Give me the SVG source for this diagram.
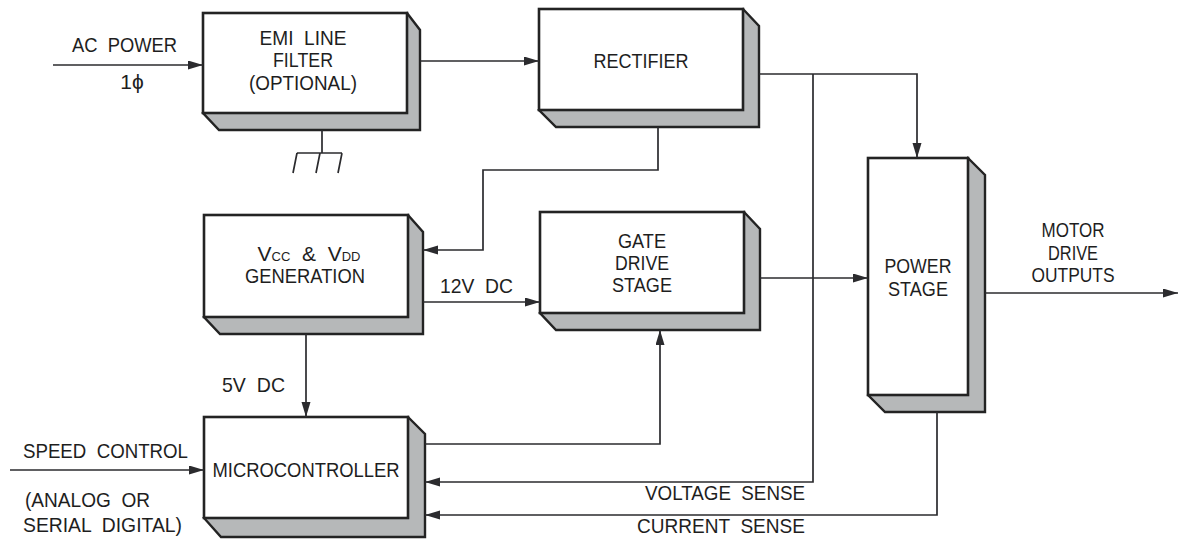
<svg xmlns="http://www.w3.org/2000/svg" width="1178" height="540" viewBox="0 0 1178 540">
<style>
.front{fill:#ffffff;stroke:#232323;stroke-width:2.6}
.shade{fill:#b6b8b9;stroke:#232323;stroke-width:2.4;stroke-linejoin:miter}
.ln{fill:none;stroke:#2b2b2e;stroke-width:1.7}
text{font-family:"Liberation Sans",Arial,sans-serif;font-size:21px;fill:#1e1e1e;white-space:pre}
.c{text-anchor:middle}
</style>
<defs>
<marker id="ah" markerUnits="userSpaceOnUse" markerWidth="16" markerHeight="10" refX="15" refY="4.5" orient="auto">
<path d="M0,0 L15,4.5 L0,9 Z" fill="#2b2b2e"/>
</marker>
</defs>
<rect width="1178" height="540" fill="#ffffff"/>

<g id="emi">
<polygon class="shade" points="407,13 420,30 420,130 219,130 203,113"/>
<rect class="front" x="203" y="13" width="204" height="100"/>
<text class="c" x="303" y="45" xml:space="preserve" textLength="87" lengthAdjust="spacingAndGlyphs">EMI  LINE</text>
<text class="c" x="303" y="67" textLength="60" lengthAdjust="spacingAndGlyphs">FILTER</text>
<text class="c" x="303" y="90" textLength="108" lengthAdjust="spacingAndGlyphs">(OPTIONAL)</text>
</g>

<g id="ground">
<path class="ln" d="M322,130 V153 M297,153 H342 M297,153 L293,173 M320,153 L316,173 M342,153 L338,173"/>
</g>

<g id="rectifier">
<polygon class="shade" points="743,9 759,26 759,127 556,127 539,110"/>
<rect class="front" x="539" y="9" width="204" height="101"/>
<text class="c" x="641" y="68" textLength="95" lengthAdjust="spacingAndGlyphs">RECTIFIER</text>
</g>

<g id="vcc">
<polygon class="shade" points="408,215 423,232 423,334 220,334 204,317"/>
<rect class="front" x="204" y="215" width="204" height="102"/>
<text class="c" x="309" y="261" xml:space="preserve">V<tspan font-size="13">CC</tspan>  &amp;  V<tspan font-size="13">DD</tspan></text>
<text class="c" x="305" y="283" textLength="120" lengthAdjust="spacingAndGlyphs">GENERATION</text>
</g>

<g id="gate">
<polygon class="shade" points="744,212 760,229 760,330 556,330 540,313"/>
<rect class="front" x="540" y="212" width="204" height="101"/>
<text class="c" x="642" y="248" textLength="48" lengthAdjust="spacingAndGlyphs">GATE</text>
<text class="c" x="642" y="270" textLength="54" lengthAdjust="spacingAndGlyphs">DRIVE</text>
<text class="c" x="642" y="292" textLength="60" lengthAdjust="spacingAndGlyphs">STAGE</text>
</g>

<g id="power">
<polygon class="shade" points="968,158 985,175 985,412 885,412 868,395"/>
<rect class="front" x="868" y="158" width="100" height="237"/>
<text class="c" x="918" y="273" textLength="67" lengthAdjust="spacingAndGlyphs">POWER</text>
<text class="c" x="918" y="296" textLength="60" lengthAdjust="spacingAndGlyphs">STAGE</text>
</g>

<g id="micro">
<polygon class="shade" points="408,417 425,434 425,537 221,537 204,518"/>
<rect class="front" x="204" y="417" width="204" height="101"/>
<text class="c" x="306" y="477" textLength="187" lengthAdjust="spacingAndGlyphs">MICROCONTROLLER</text>
</g>

<g id="connectors">
<path class="ln" d="M53,65 H203" marker-end="url(#ah)"/>
<path class="ln" d="M420,61 H539" marker-end="url(#ah)"/>
<path class="ln" d="M658,127 V170 H483 V250 H423" marker-end="url(#ah)"/>
<path class="ln" d="M423,302 H540" marker-end="url(#ah)"/>
<path class="ln" d="M306,334 V417" marker-end="url(#ah)"/>
<path class="ln" d="M759,74 H917 V158" marker-end="url(#ah)"/>
<path class="ln" d="M813,74 V482 H425" marker-end="url(#ah)"/>
<path class="ln" d="M760,278 H868" marker-end="url(#ah)"/>
<path class="ln" d="M985,293 H1178" marker-end="url(#ah)"/>
<path class="ln" d="M425,444 H660 V330" marker-end="url(#ah)"/>
<path class="ln" d="M937,412 V515 H425" marker-end="url(#ah)"/>
<path class="ln" d="M10,470 H204" marker-end="url(#ah)"/>
</g>

<g id="labels" xml:space="preserve">
<text x="72" y="52" textLength="105" lengthAdjust="spacingAndGlyphs">AC  POWER</text>
<text class="c" x="132" y="89">1ϕ</text>
<text x="440" y="293" textLength="73" lengthAdjust="spacingAndGlyphs">12V  DC</text>
<text x="222" y="392" textLength="63" lengthAdjust="spacingAndGlyphs">5V  DC</text>
<text class="c" x="1073" y="237" textLength="63" lengthAdjust="spacingAndGlyphs">MOTOR</text>
<text class="c" x="1073" y="260" textLength="50" lengthAdjust="spacingAndGlyphs">DRIVE</text>
<text class="c" x="1073" y="282" textLength="83" lengthAdjust="spacingAndGlyphs">OUTPUTS</text>
<text x="23" y="458" textLength="165" lengthAdjust="spacingAndGlyphs">SPEED  CONTROL</text>
<text x="25" y="507" textLength="125" lengthAdjust="spacingAndGlyphs">(ANALOG  OR</text>
<text x="23" y="532" textLength="159" lengthAdjust="spacingAndGlyphs">SERIAL  DIGITAL)</text>
<text x="645" y="500" textLength="160" lengthAdjust="spacingAndGlyphs">VOLTAGE  SENSE</text>
<text x="637" y="533" textLength="168" lengthAdjust="spacingAndGlyphs">CURRENT  SENSE</text>
</g>
</svg>
